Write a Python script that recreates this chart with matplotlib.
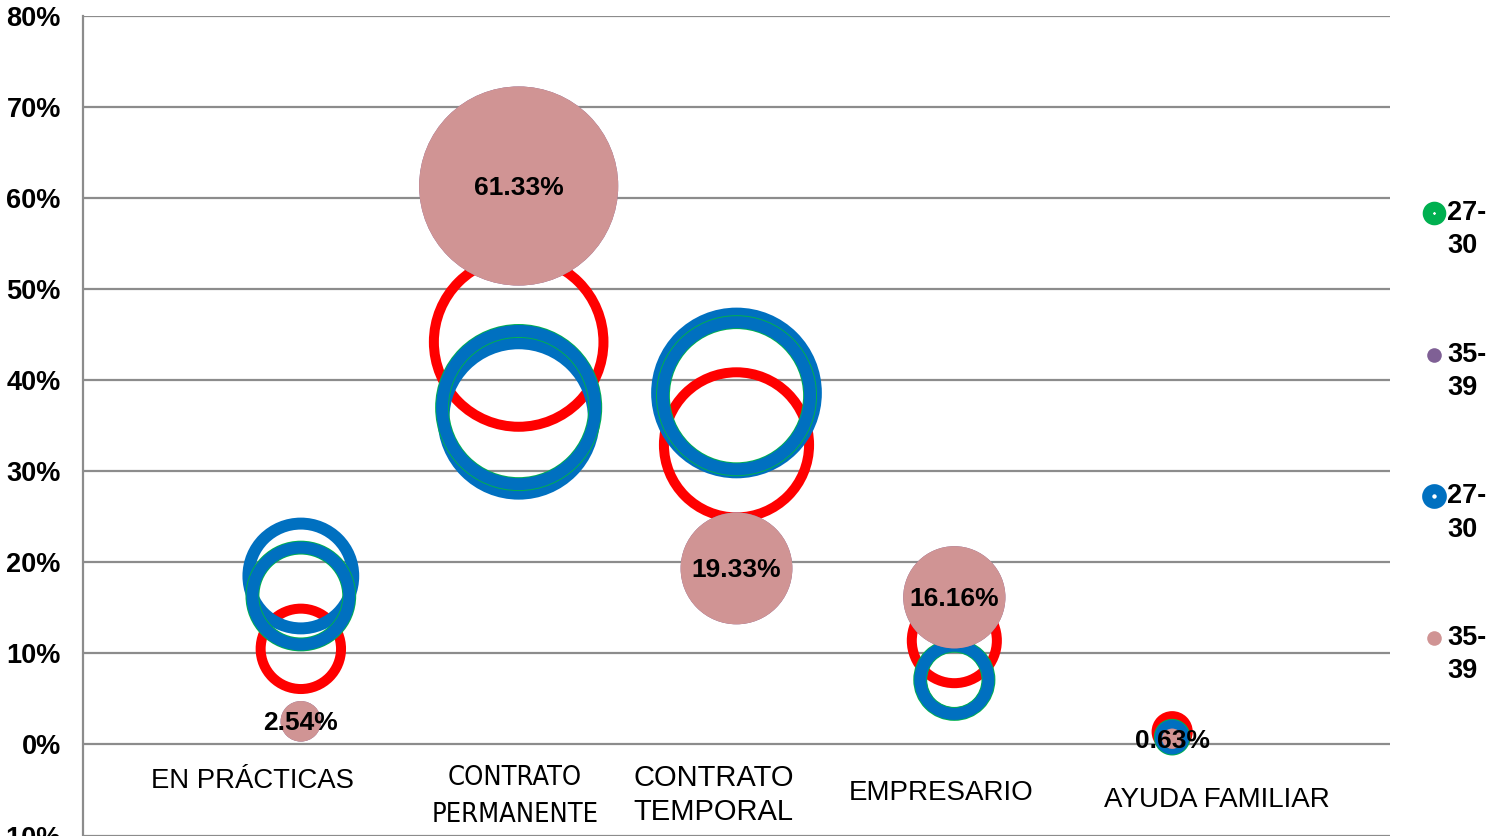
import matplotlib
matplotlib.use("Agg")
import matplotlib.pyplot as plt
from matplotlib.lines import Line2D
from matplotlib import font_manager

# ---------------- data ----------------
categories = ["EN PRÁCTICAS", "CONTRATO\nPERMANENTE", "CONTRATO\nTEMPORAL", "EMPRESARIO", "AYUDA FAMILIAR"]
x_pos = [1, 2, 3, 4, 5]

# red ring series (not in legend)
red_y = [10.5, 44.2, 32.9, 11.4, 1.4]
red_size = [10.0, 44.5, 32.6, 11.2, 1.5]

# blue ring series without the green edge (not in legend)
blue2_y = [18.5, 35.8, 38.6, 7.1, 0.8]
blue2_size = [17.0, 35.0, 39.0, 7.0, 0.8]

# 27-30 (green) and 27-30 (blue) drawn on the same points
g_y = [16.3, 37.0, 38.3, 7.1, 0.8]
g_size = [14.5, 36.3, 33.5, 7.2, 0.8]

# 35-39 (purple, hidden) and 35-39 (pink, labelled)
purple_y = [2.54, 61.33, 19.33, 16.16, 0.63]
pink_y = [2.54, 61.33, 19.33, 16.16, 0.63]

legend_labels = ["27-\n30", "35-\n39", "27-\n30", "35-\n39"]
y_ticks = [-10, 0, 10, 20, 30, 40, 50, 60, 70, 80]

# ---------------- style ----------------
RED = "#FF0000"
BLUE = "#0070C0"
GREEN = "#00B050"
PINK = "#D09494"
PURPLE = "#7F6095"
GRID = "#8C8C8C"
SCALE = 335.0  # points^2 per unit of bubble size

plt.rcParams["font.family"] = ["Liberation Sans", "DejaVu Sans"]

fig = plt.figure(figsize=(14.89, 8.36), dpi=100)
W, H = 1489.0, 836.0
ax = fig.add_axes([83 / W, 0.5 / H, (1390 - 83) / W, (836 - 16 - 0.5) / H])
ax.set_xlim(0, 6)
ax.set_ylim(-10, 80)

ax.set_yticks(y_ticks)
ax.set_yticklabels([f"{t}%" for t in y_ticks], fontsize=19.5, fontweight="bold")
ax.tick_params(axis="y", length=0, pad=16)
ax.set_xticks([])
ax.grid(axis="y", color=GRID, linewidth=1.6)
ax.set_axisbelow(True)
for s in ["top", "right", "bottom"]:
    ax.spines[s].set_visible(False)
ax.spines["left"].set_color(GRID)
ax.spines["left"].set_linewidth(1.6)


def sz(vals):
    return [v * SCALE for v in vals]


ax.scatter(x_pos, red_y, s=sz(red_size), facecolors="none", edgecolors=RED, linewidths=7.2, zorder=3)
ax.scatter(x_pos, blue2_y, s=sz(blue2_size), facecolors="none", edgecolors=BLUE, linewidths=8.6, zorder=4)
ax.scatter(x_pos, g_y, s=sz(g_size), facecolors="none", edgecolors=GREEN, linewidths=10.0, zorder=5)
ax.scatter(x_pos, g_y, s=sz(g_size), facecolors="none", edgecolors=BLUE, linewidths=8.6, zorder=6)
ax.scatter(x_pos, purple_y, s=sz(purple_y), color=PURPLE, linewidths=0, zorder=7)
ax.scatter(x_pos, pink_y, s=sz(pink_y), color=PINK, linewidths=0, zorder=8)

for xv, yv in zip(x_pos, pink_y):
    ax.text(xv, yv - 0.2, f"{yv:.2f}%", ha="center", va="center", fontsize=19,
            fontweight="bold", color="black", zorder=10)

# category labels (placed like in the reference)
names = {f.name for f in font_manager.fontManager.ttflist}
narrow = "Liberation Sans Narrow" if "Liberation Sans Narrow" in names else "DejaVu Sans"
ax.text(0.776, -4.05, categories[0], ha="center", va="center", fontsize=19.8)
ax.text(1.983, -5.7, categories[1], ha="center", va="center", fontsize=19.5,
        family=narrow, linespacing=1.55, stretch="condensed")
ax.text(2.525, -5.55, categories[2], ha="left", va="center", fontsize=21, linespacing=1.3)
ax.text(3.939, -5.3, categories[3], ha="center", va="center", fontsize=20)
ax.text(5.207, -6.05, categories[4], ha="center", va="center", fontsize=20)

# legend (right side), marker beside the first line of each two-line label
leg_handles = [
    dict(markersize=9.6, markeredgewidth=7.4, markeredgecolor=GREEN, markerfacecolor="white"),
    dict(markersize=10.5, markeredgewidth=0, markerfacecolor=PURPLE),
    dict(markersize=10.6, markeredgewidth=7.2, markeredgecolor=BLUE, markerfacecolor="white"),
    dict(markersize=10.5, markeredgewidth=0, markerfacecolor=PINK),
]
leg_y0, leg_dy = 213.0, 141.7
for i, (lab, hk) in enumerate(zip(legend_labels, leg_handles)):
    yy = 1 - (leg_y0 + i * leg_dy) / H
    fig.add_artist(Line2D([1434 / W], [yy], transform=fig.transFigure,
                          linestyle="none", marker="o", **hk))
    fig.text(1447 / W, 1 - (leg_y0 + i * leg_dy - 13) / H, lab, ha="left", va="top",
             fontsize=19.5, fontweight="bold", linespacing=1.36)

fig.savefig("out.png", dpi=100)
